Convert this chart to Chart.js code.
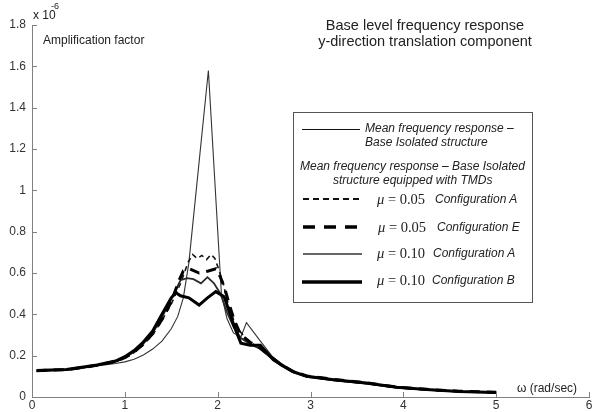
<!DOCTYPE html>
<html><head><meta charset="utf-8">
<script src="https://cdn.jsdelivr.net/npm/chart.js@4.4.1/dist/chart.umd.min.js"></script>
<style>
html,body{margin:0;padding:0;background:#fff;}
#wrap{position:relative;width:600px;height:412px;overflow:hidden;font-family:"Liberation Sans",Arial,sans-serif;color:#222;}
#c{position:absolute;left:0;top:0;}
.t{position:absolute;white-space:nowrap;line-height:14px;font-size:12px;}
.i{font-style:italic;}
.mu{position:absolute;white-space:nowrap;font-family:"Liberation Serif","Times New Roman",serif;font-size:14.5px;line-height:16px;}
#legbox{position:absolute;left:293px;top:112px;width:240px;height:191px;box-sizing:border-box;border:1px solid #555;}
#legsvg{position:absolute;left:0;top:0;}
</style></head>
<body><div id="wrap">
<canvas id="c" width="600" height="412"></canvas>
<div class="t" style="left:33px;top:8px;">x 10</div>
<div class="t" style="left:51px;top:1px;font-size:9px;line-height:10px;">-6</div>
<div class="t" style="left:43px;top:33px;">Amplification factor</div>
<div class="t" style="left:300px;top:17px;width:250px;text-align:center;font-size:14.5px;line-height:16px;">Base level frequency response<br>y-direction translation component</div>
<div class="t" style="left:517px;top:381px;">ω (rad/sec)</div>
<div id="legbox"></div>
<svg id="legsvg" width="600" height="412">
  <line x1="302" y1="129.5" x2="360" y2="129.5" stroke="#111" stroke-width="1"/>
  <line x1="303" y1="199" x2="362" y2="199" stroke="#111" stroke-width="2" stroke-dasharray="6 4"/>
  <line x1="303" y1="227" x2="358" y2="227" stroke="#000" stroke-width="3.5" stroke-dasharray="12 9"/>
  <line x1="303" y1="254" x2="362" y2="254" stroke="#333" stroke-width="1.6"/>
  <line x1="302" y1="282" x2="362" y2="282" stroke="#000" stroke-width="3.5"/>
</svg>
<div class="t i" style="left:365px;top:121px;">Mean frequency response –</div>
<div class="t i" style="left:365px;top:135px;">Base Isolated structure</div>
<div class="t i" style="left:300px;top:159px;">Mean frequency response – Base Isolated</div>
<div class="t i" style="left:333px;top:173px;">structure equipped with TMDs</div>
<div class="mu" style="left:377px;top:191px;"><i>μ</i> = 0.05</div>
<div class="t i" style="left:435px;top:192px;">Configuration A</div>
<div class="mu" style="left:378px;top:219px;"><i>μ</i> = 0.05</div>
<div class="t i" style="left:437px;top:220px;">Configuration E</div>
<div class="mu" style="left:377px;top:245px;"><i>μ</i> = 0.10</div>
<div class="t i" style="left:433px;top:246px;">Configuration A</div>
<div class="mu" style="left:377px;top:272px;"><i>μ</i> = 0.10</div>
<div class="t i" style="left:432px;top:273px;">Configuration B</div>
</div>
<script>
// Tick values (amplification in units of 1e-6)
const xTickValues = [0, 1, 2, 3, 4, 5, 6];
const yTickValues = [0, 0.2, 0.4, 0.6, 0.8, 1, 1.2, 1.4, 1.6, 1.8];

// Mean frequency response - Base Isolated structure
const baseX = [0.05,0.2,0.37,0.5,0.7,0.9,1.0,1.1,1.2,1.3,1.4,1.5,1.57,1.63,1.69,1.9,2.04,2.1,2.17,2.25,2.31,2.46,2.6,2.8,3.0,3.25,3.6,3.93,4.25,4.6,5.0];
const baseY = [0.125,0.128,0.13,0.137,0.15,0.162,0.17,0.183,0.203,0.232,0.27,0.33,0.39,0.48,0.65,1.58,0.50,0.38,0.31,0.29,0.36,0.27,0.19,0.125,0.096,0.08,0.064,0.044,0.034,0.026,0.02];

// mu = 0.05 Configuration A
const a05X = [0.05,0.2,0.37,0.5,0.7,0.9,1.0,1.1,1.2,1.3,1.4,1.5,1.6,1.68,1.73,1.78,1.83,1.88,1.93,1.97,2.01,2.06,2.1,2.15,2.2,2.3,2.4,2.53,2.68,2.82,2.96,3.25,3.6,3.93,4.25,4.6,5.0];
const a05Y = [0.126,0.129,0.131,0.139,0.153,0.17,0.188,0.215,0.252,0.302,0.37,0.45,0.55,0.65,0.69,0.67,0.685,0.665,0.69,0.67,0.62,0.55,0.47,0.40,0.34,0.285,0.25,0.21,0.155,0.12,0.10,0.083,0.067,0.046,0.036,0.027,0.022];

// mu = 0.05 Configuration E
const e05X = [0.05,0.2,0.37,0.5,0.7,0.9,1.0,1.1,1.2,1.3,1.4,1.5,1.58,1.63,1.7,1.8,1.9,1.98,2.03,2.08,2.13,2.18,2.25,2.35,2.45,2.53,2.68,2.82,2.96,3.25,3.6,3.93,4.25,4.6,5.0];
const e05Y = [0.127,0.13,0.132,0.14,0.154,0.172,0.19,0.218,0.256,0.307,0.375,0.46,0.56,0.61,0.62,0.60,0.61,0.62,0.58,0.52,0.44,0.37,0.30,0.265,0.24,0.21,0.158,0.122,0.102,0.085,0.069,0.048,0.037,0.028,0.023];

// mu = 0.10 Configuration A
const a10X = [0.05,0.2,0.37,0.5,0.7,0.9,1.0,1.1,1.2,1.3,1.4,1.5,1.6,1.67,1.74,1.82,1.89,1.96,2.03,2.1,2.17,2.25,2.35,2.45,2.53,2.68,2.82,2.96,3.25,3.6,3.93,4.25,4.6,5.0];
const a10Y = [0.126,0.129,0.131,0.139,0.153,0.171,0.19,0.219,0.258,0.31,0.385,0.475,0.565,0.575,0.57,0.55,0.58,0.55,0.50,0.41,0.34,0.285,0.255,0.235,0.205,0.152,0.118,0.097,0.081,0.065,0.045,0.035,0.026,0.021];

// mu = 0.10 Configuration B
const b10X = [0.05,0.2,0.37,0.5,0.7,0.9,1.0,1.1,1.2,1.3,1.4,1.5,1.55,1.6,1.69,1.8,1.89,1.98,2.07,2.12,2.18,2.25,2.35,2.46,2.6,2.8,2.96,3.25,3.6,3.93,4.25,4.6,5.0];
const b10Y = [0.128,0.131,0.133,0.141,0.155,0.174,0.195,0.225,0.266,0.32,0.40,0.48,0.505,0.49,0.48,0.445,0.48,0.51,0.485,0.42,0.34,0.26,0.25,0.25,0.18,0.125,0.10,0.084,0.068,0.047,0.036,0.027,0.022];

const pts = (xs, ys) => xs.map((x, i) => ({ x: x, y: ys[i] }));

const insideTicks = {
  id: 'insideTicks',
  afterDraw(chart) {
    const { ctx, chartArea } = chart;
    const xs = chart.scales.x, ys = chart.scales.y;
    ctx.save();
    ctx.strokeStyle = '#808080';
    ctx.lineWidth = 1;
    ctx.beginPath();
    xTickValues.forEach(v => {
      const px = Math.round(xs.getPixelForValue(v)) + 0.5;
      ctx.moveTo(px, chartArea.bottom);
      ctx.lineTo(px, chartArea.bottom - 5);
    });
    yTickValues.forEach(v => {
      const py = Math.round(ys.getPixelForValue(v)) + 0.5;
      ctx.moveTo(chartArea.left, py);
      ctx.lineTo(chartArea.left + 5, py);
    });
    ctx.stroke();
    ctx.restore();
  }
};

new Chart(document.getElementById('c'), {
  type: 'line',
  data: {
    datasets: [
      { label: 'mu=0.10 Configuration B', data: pts(b10X, b10Y), borderColor: '#000', borderWidth: 3 },
      { label: 'mu=0.05 Configuration E', data: pts(e05X, e05Y), borderColor: '#000', borderWidth: 3, borderDash: [10, 7] },
      { label: 'mu=0.10 Configuration A', data: pts(a10X, a10Y), borderColor: '#2a2a2a', borderWidth: 1.8 },
      { label: 'mu=0.05 Configuration A', data: pts(a05X, a05Y), borderColor: '#111', borderWidth: 1.6, borderDash: [5, 4] },
      { label: 'Base Isolated structure', data: pts(baseX, baseY), borderColor: '#333', borderWidth: 1.1 }
    ]
  },
  options: {
    responsive: false,
    animation: false,
    devicePixelRatio: 1,
    parsing: true,
    elements: { point: { radius: 0, hoverRadius: 0 }, line: { tension: 0, fill: false } },
    layout: { padding: { left: 0, top: 25, right: 11, bottom: 0 } },
    plugins: { legend: { display: false }, tooltip: { enabled: false }, title: { display: false } },
    scales: {
      x: {
        type: 'linear', min: 0, max: 6,
        afterFit: s => { s.height = 15; },
        afterBuildTicks: s => { s.ticks = xTickValues.map(v => ({ value: v })); },
        grid: { display: false, drawTicks: false },
        border: { display: true, color: '#808080', width: 1 },
        ticks: { padding: 1, color: '#333', font: { family: 'Liberation Sans', size: 12 }, autoSkip: false, maxRotation: 0,
          callback: v => String(v) }
      },
      y: {
        type: 'linear', min: 0, max: 1.8,
        afterFit: s => { s.width = 32; },
        afterBuildTicks: s => { s.ticks = yTickValues.map(v => ({ value: v })); },
        grid: { display: false, drawTicks: false },
        border: { display: true, color: '#808080', width: 1 },
        ticks: { padding: 6, color: '#333', font: { family: 'Liberation Sans', size: 12 }, autoSkip: false,
          callback: v => String(+Number(v).toFixed(1)) }
      }
    }
  },
  plugins: [insideTicks]
});
</script>
</body></html>
